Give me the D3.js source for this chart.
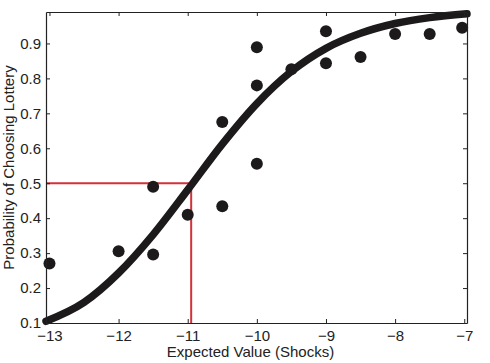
<!DOCTYPE html>
<html><head><meta charset="utf-8">
<script src="https://cdn.jsdelivr.net/npm/d3@7"></script>
<style>body{margin:0;background:#fff;} text{font-family:"Liberation Sans",Arial,sans-serif;}</style>
</head><body>
<svg id="c" width="490" height="363"></svg>
<script>
// observed data points
const pointX = [-13, -12, -11.5, -11.5, -11, -10.5, -10.5, -10, -10, -10, -9.5, -9, -9, -8.5, -8, -7.5, -7.03];
const pointY = [0.27, 0.305, 0.49, 0.296, 0.41, 0.675, 0.434, 0.556, 0.78, 0.889, 0.826, 0.935, 0.843, 0.861, 0.927, 0.927, 0.945];
// fitted curve
const curveX = [-13.05, -12.5, -12, -11.5, -11, -10.5, -10, -9.5, -9, -8.5, -8, -7.5, -6.96];
const curveY = [0.105, 0.159, 0.243, 0.353, 0.481, 0.612, 0.728, 0.82, 0.886, 0.929, 0.957, 0.974, 0.985];
// indifference point
const indiffX = -10.95, indiffY = 0.5;
const xTicks = [-13, -12, -11, -10, -9, -8, -7];
const yTicks = [0.1, 0.2, 0.3, 0.4, 0.5, 0.6, 0.7, 0.8, 0.9];

const svg = d3.select('#c');
const L = 46, R = 467, T = 12, B = 323;
const x = d3.scaleLinear().domain([-13.05, -6.96]).range([L, R]);
const y = d3.scaleLinear().domain([0.1, 0.99]).range([B, T]);

const plot = svg.append('g');
// red lines
plot.append('path')
  .attr('d', `M${x(-13.05)},${y(indiffY)}H${x(indiffX)}V${B}`)
  .attr('fill','none').attr('stroke','#d2323a').attr('stroke-width',2);

// curve
const line = d3.line().x((d,i)=>x(curveX[i])).y(d=>y(d)).curve(d3.curveMonotoneX);
plot.append('path').attr('d', line(curveY)).attr('fill','none')
  .attr('stroke','#1c1a1a').attr('stroke-width',7.5).attr('stroke-linecap','round');

// points
plot.selectAll('circle').data(pointY).join('circle')
  .attr('cx',(d,i)=>x(pointX[i])).attr('cy',d=>y(d)).attr('r',6).attr('fill','#1c1a1a');

// axes
const ax = svg.append('g');
const fmtY = d3.format('.1f');
ax.append('g').attr('transform',`translate(0,${B})`)
  .call(d3.axisBottom(x).tickValues(xTicks).tickSizeInner(-4).tickSizeOuter(0).tickPadding(7).tickFormat(d3.format('d')));
ax.append('g').attr('transform',`translate(0,${T})`)
  .call(d3.axisTop(x).tickValues(xTicks).tickSizeInner(-4).tickSizeOuter(0).tickFormat(''));
ax.append('g').attr('transform',`translate(${L},0)`)
  .call(d3.axisLeft(y).tickValues(yTicks).tickSizeInner(-4).tickSizeOuter(0).tickPadding(5).tickFormat(fmtY));
ax.append('g').attr('transform',`translate(${R},0)`)
  .call(d3.axisRight(y).tickValues(yTicks).tickSizeInner(-4).tickSizeOuter(0).tickFormat(''));
ax.selectAll('.domain').attr('stroke','#222').attr('stroke-width',1.2);
ax.selectAll('.tick line').attr('stroke','#222');
ax.selectAll('.tick text').attr('font-size',15).attr('fill','#222').attr('font-family','"Liberation Sans",Arial,sans-serif');

svg.append('text').attr('x',250.5).attr('y',357).attr('text-anchor','middle')
  .attr('font-size',15).attr('fill','#222').text('Expected Value (Shocks)');
svg.append('text').attr('transform',`translate(13.5,167.5) rotate(-90)`).attr('text-anchor','middle')
  .attr('font-size',15).attr('fill','#222').text('Probability of Choosing Lottery');
</script>
</body></html>
